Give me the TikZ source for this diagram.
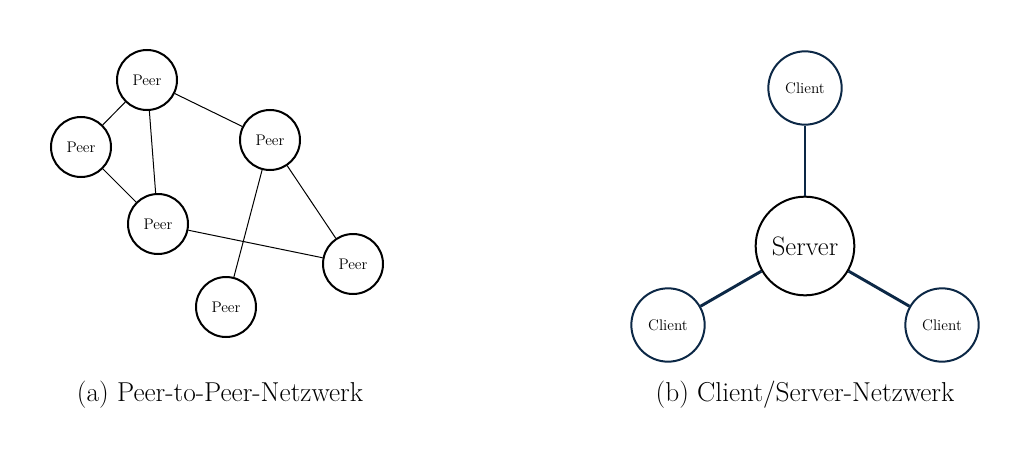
\documentclass[tikz,border=0pt]{standalone}
\usepackage{fontspec}
\definecolor{navy}{RGB}{12,40,70}
\begin{document}
\begin{tikzpicture}[x=0.75pt,y=-0.75pt,
  peer/.style={circle,draw=black,line width=1.5pt,minimum size=45pt,inner sep=0pt,font=\fontsize{11.5}{13}\selectfont},
  client/.style={circle,draw=navy,line width=1.5pt,minimum size=55pt,inner sep=0pt,font=\fontsize{11.5}{13}\selectfont},
  server/.style={circle,draw=black,line width=1.5pt,minimum size=74pt,inner sep=0pt,font=\fontsize{20}{22}\selectfont},
  pedge/.style={draw=black,line width=0.75pt},
  cedge/.style={draw=navy,line width=2.2pt},
  captext/.style={font=\fontsize{20.5}{23}\selectfont}]
\useasboundingbox (0,0) rectangle (1030,460);
\node[peer] (p1) at (147,80) {Peer};
\node[peer] (p2) at (81,147) {Peer};
\node[peer] (p3) at (270,140) {Peer};
\node[peer] (p4) at (158,224) {Peer};
\node[peer] (p5) at (353,264) {Peer};
\node[peer] (p6) at (226,307) {Peer};
\draw[pedge] (p1) -- (p2);
\draw[pedge] (p1) -- (p4);
\draw[pedge] (p1) -- (p3);
\draw[pedge] (p2) -- (p4);
\draw[pedge] (p4) -- (p5);
\draw[pedge] (p3) -- (p6);
\draw[pedge] (p3) -- (p5);
\node[server] (s) at (805,246) {Server};
\node[client] (c1) at (805,88) {Client};
\node[client] (c2) at (668,325) {Client};
\node[client] (c3) at (942,325) {Client};
\draw[cedge] (s) -- (c1);
\draw[cedge] (s) -- (c2);
\draw[cedge] (s) -- (c3);
\node[captext] (ca) at (220,395) {(a) Peer-to-Peer-Netzwerk};
\node[captext] (cb) at (805,395) {(b) Client/Server-Netzwerk};
\end{tikzpicture}
\end{document}
